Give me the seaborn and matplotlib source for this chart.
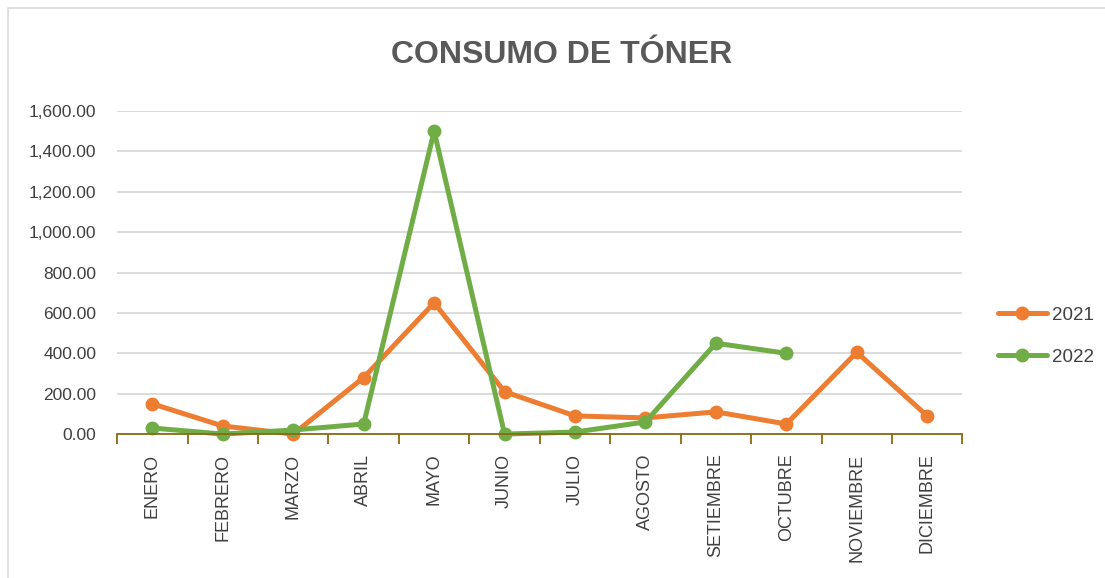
import numpy as np
import pandas as pd
import matplotlib
matplotlib.use("Agg")
import matplotlib.pyplot as plt
from matplotlib.ticker import FuncFormatter, FixedLocator
from matplotlib.patches import Rectangle
import seaborn as sns

meses = ["ENERO", "FEBRERO", "MARZO", "ABRIL", "MAYO", "JUNIO", "JULIO",
         "AGOSTO", "SETIEMBRE", "OCTUBRE", "NOVIEMBRE", "DICIEMBRE"]
valores_2021 = [150, 40, 0, 280, 650, 210, 90, 80, 110, 50, 405, 90]
valores_2022 = [30, 0, 20, 50, 1500, 0, 10, 60, 450, 400, np.nan, np.nan]
anios = ["2021", "2022"]
colores = ["#ED7D31", "#70AD47"]

df = pd.DataFrame({
    "mes": meses * 2,
    "pos": list(range(12)) * 2,
    "valor": valores_2021 + valores_2022,
    "anio": [anios[0]] * 12 + [anios[1]] * 12,
})

sns.set_theme(style="white")
plt.rcParams["font.family"] = ["Liberation Sans", "DejaVu Sans"]

fig = plt.figure(figsize=(11.05, 5.78), dpi=100)
ax = fig.add_axes([0.106, 0.249, 0.765, 0.559])

# borde del área del gráfico
fig.patches.append(Rectangle((0.0075, -0.01), 1.0, 0.996, transform=fig.transFigure,
                             fill=False, edgecolor="#D9D9D9", linewidth=1.2))

sns.lineplot(data=df, x="pos", y="valor", hue="anio", palette=colores,
             marker="o", markersize=10, markeredgewidth=0, linewidth=3.6,
             sort=False, ax=ax, clip_on=False)

ax.set_xlim(-0.5, 11.5)
ax.set_ylim(0, 1600)
ax.set_yticks(np.arange(0, 1601, 200))
ax.yaxis.set_major_formatter(FuncFormatter(lambda v, p: "{:,.2f}".format(v)))
ax.grid(axis="y", color="#D9D9D9", linewidth=1.3)
ax.grid(axis="x", visible=False)
ax.set_axisbelow(True)

ax.set_xticks(range(12))
ax.set_xticklabels(meses, rotation=90, fontsize=13, color="#404040")
ax.xaxis.set_minor_locator(FixedLocator(np.arange(-0.5, 12, 1)))
ax.tick_params(axis="x", which="major", length=0, pad=14)
ax.tick_params(axis="x", which="minor", length=7, width=1.3, color="#8B6914",
               direction="out", bottom=True)
ax.tick_params(axis="y", length=0, pad=15, labelsize=12.5, labelcolor="#404040")

for s in ["top", "right", "left"]:
    ax.spines[s].set_visible(False)
ax.spines["bottom"].set_color("#8B6914")
ax.spines["bottom"].set_linewidth(1.3)

ax.set_xlabel("")
ax.set_ylabel("")

fig.text(0.508, 0.905, "CONSUMO DE TÓNER", ha="center", va="center",
         fontsize=23, fontweight="bold", color="#595959")

leg = ax.legend(loc="center left", bbox_to_anchor=(1.042, 0.303), frameon=False,
                fontsize=13.5, handlelength=2.6, labelspacing=1.35,
                handletextpad=0.3, borderaxespad=0, borderpad=0)
for t in leg.get_texts():
    t.set_color("#404040")

fig.savefig("out.png", dpi=100)
